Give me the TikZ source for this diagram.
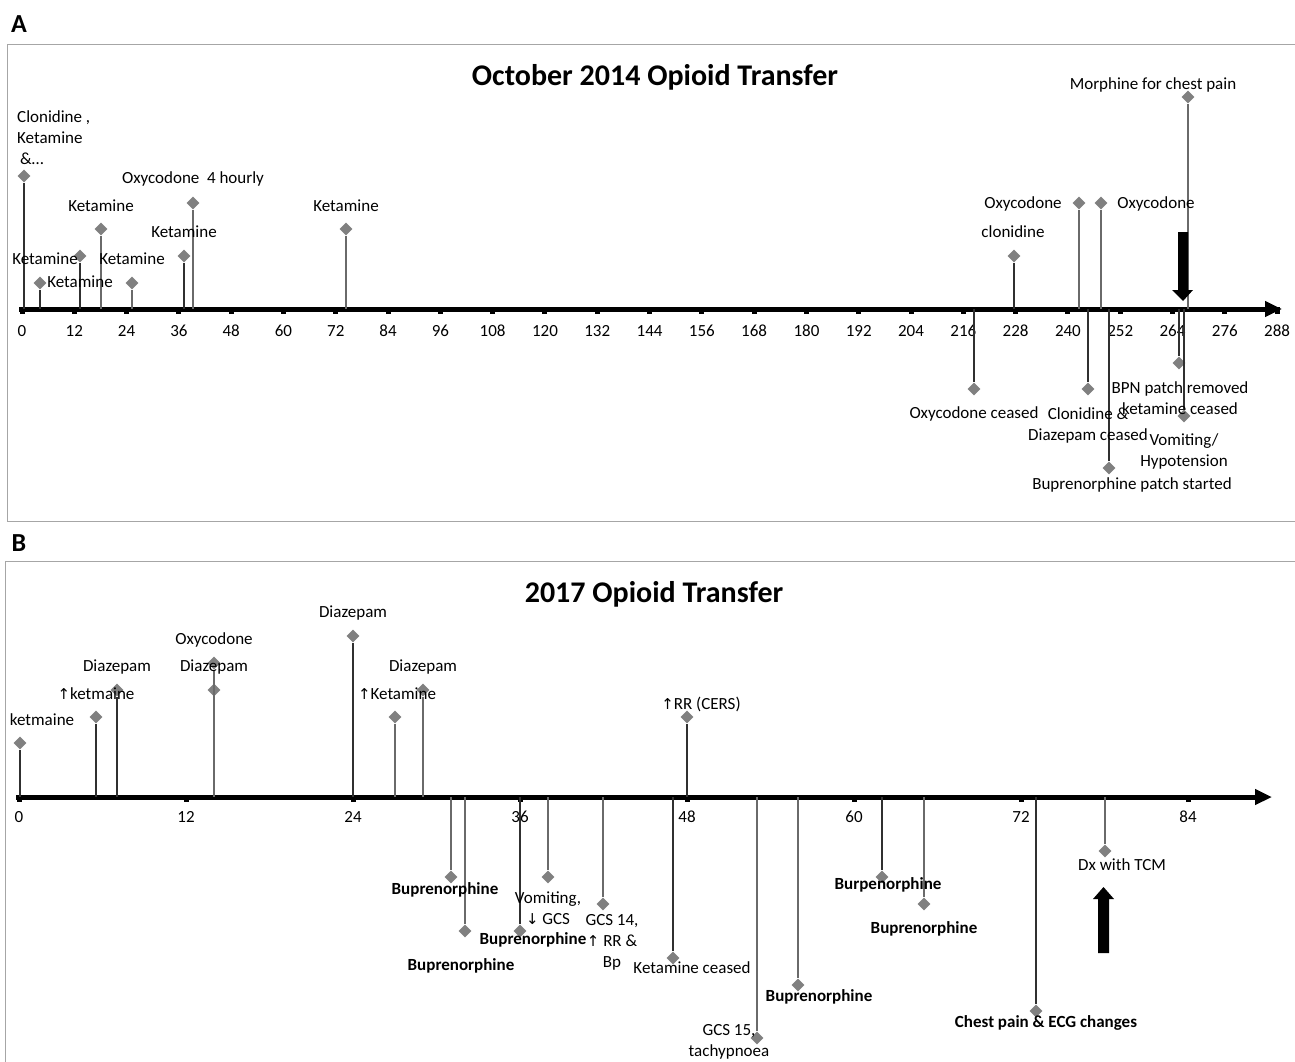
\documentclass[tikz,border=0pt]{standalone}
\usepackage{fontspec}
\setmainfont{Carlito}
\newfontfamily\symfont{DejaVu Sans}
\usetikzlibrary{shapes.geometric,arrows.meta}
\definecolor{diagray}{HTML}{808080}
\definecolor{stemgray}{HTML}{6A6A6A}
\definecolor{stemdark}{HTML}{303030}
\definecolor{framegray}{HTML}{A6A6A6}
\newcommand\evnt[5]{\coordinate (#1x) at (#2,#4); \node[dia] (#1) at (#2,#3) {}; \draw[#5] (#1x) -- (#1);}
\newcommand\up{{\symfont\fontsize{15}{21}\selectfont ↑}}
\newcommand\dn{{\symfont\fontsize{15}{21}\selectfont ↓}}
\begin{document}
\begin{tikzpicture}[x=1pt,y=-1pt,
 dia/.style={diamond,fill=diagray,draw=none,minimum width=13pt,minimum height=13pt,inner sep=0pt},
 stem/.style={line width=1.1pt,draw=stemgray},
 stemk/.style={line width=1.1pt,draw=stemdark},
 lab/.style={font=\fontsize{17}{21}\selectfont,inner sep=0pt,align=center},
 blab/.style={font=\fontsize{17}{21}\selectfont\bfseries,inner sep=0pt,align=center},
 ttl/.style={font=\fontsize{30}{36}\selectfont\bfseries,inner sep=0pt},
 plab/.style={font=\fontsize{26}{30}\selectfont\bfseries,inner sep=0pt},
 tlab/.style={font=\fontsize{17}{21}\selectfont,inner sep=0pt},
 axis/.style={line width=5pt,-{Triangle[length=17pt,width=15pt]}},
 frm/.style={draw=framegray,line width=1pt},
 bigarrow/.style={fill=black}
]
\useasboundingbox (0,0) rectangle (1295,1061);
\fill[white] (0,0) rectangle (1295,1061);

% ---------------- Panel A ----------------
\node[plab] (pA) at (19,24) {A};
\draw[frm] (1300,44) -- (7,44) -- (7,521) -- (1300,521);
\node[ttl] (tA) at (655,77) {October 2014 Opioid Transfer};

\coordinate (axAs) at (19,309);
\coordinate (axAe) at (1282,309);
\draw[axis] (axAs) -- (axAe);
\foreach \t in {0,12,...,288} {
  \fill ({22+\t*4.358-2.5},307) rectangle ({22+\t*4.358+2.5},314);
  \node[tlab] (tkA\t) at ({22+\t*4.358},331) {\t};
}

% events above
\evnt{a1}{24}{176}{309}{stemk}
\evnt{a2}{40}{283}{309}{stemk}
\evnt{a3}{80}{256}{309}{stemk}
\evnt{a4}{101}{229}{309}{stem}
\evnt{a5}{132}{283}{309}{stem}
\evnt{a6}{184}{256}{309}{stemk}
\evnt{a7}{193}{203}{309}{stem}
\evnt{a8}{346}{229}{309}{stem}
\evnt{a9}{1014}{256}{309}{stemk}
\evnt{a10}{1079}{203}{309}{stem}
\evnt{a11}{1101}{203}{309}{stem}
\evnt{a12}{1188}{97}{309}{stem}
% events below
\evnt{b1}{974}{389}{309}{stemk}
\evnt{b2}{1088}{389}{309}{stemk}
\evnt{b3}{1109}{468}{309}{stemk}
\evnt{b4}{1179}{363}{309}{stemk}
\evnt{b5}{1184}{416}{309}{stemk}

\node[lab,align=left,anchor=west] (la1) at (17,138) {Clonidine ,\\Ketamine\\\hspace{3pt}\&…};
\node[lab] (la2) at (80,282) {Ketamine};
\node[lab] (la3) at (45,259) {Ketamine};
\node[lab] (la4) at (101,206) {Ketamine};
\node[lab] (la5) at (132,259) {Ketamine};
\node[lab] (la6) at (184,232) {Ketamine};
\node[lab] (la7) at (193,179) {Oxycodone\ \ 4 hourly};
\node[lab] (la8) at (346,206) {Ketamine};
\node[lab] (la9) at (1013,232) {clonidine};
\node[lab] (la10) at (1023,204) {Oxycodone};
\node[lab] (la11) at (1156,204) {Oxycodone};
\node[lab] (la12) at (1153,85) {Morphine for chest pain};
\node[lab] (lb1) at (974,414) {Oxycodone ceased};
\node[lab] (lb2) at (1088,425) {Clonidine \&\\Diazepam ceased};
\node[lab] (lb3) at (1132,485) {Buprenorphine patch started};
\node[lab] (lb4) at (1180,398) {BPN patch removed\\ketamine ceased};
\node[lab] (lb5) at (1184,451) {Vomiting/\\Hypotension};

\fill[bigarrow] (1178,232) -- (1188,232) -- (1188,290) -- (1193,290) -- (1183,301) -- (1172,290) -- (1178,290) -- cycle;

% ---------------- Panel B ----------------
\node[plab] (pB) at (19,543) {B};
\draw[frm] (1300,561) -- (5,561) -- (5,1070);
\node[ttl] (tB) at (654,594) {2017 Opioid Transfer};

\coordinate (axBs) at (16,797);
\coordinate (axBe) at (1272,797);
\draw[axis] (axBs) -- (axBe);
\foreach \t in {0,12,...,84} {
  \fill ({19+\t*13.917-2.5},795) rectangle ({19+\t*13.917+2.5},802);
  \node[tlab] (tkB\t) at ({19+\t*13.917},817) {\t};
}

\evnt{c1}{20}{743}{797}{stemk}
\evnt{c2}{96}{717}{797}{stemk}
\evnt{c3}{117}{690}{797}{stemk}
\evnt{c5}{214}{690}{797}{stemk,line width=2.2pt}
\evnt{c4}{214}{663}{797}{stem}
\evnt{c6}{353}{636}{797}{stemk}
\evnt{c7}{395}{717}{797}{stem}
\evnt{c8}{423}{690}{797}{stem}
\evnt{c9}{687}{717}{797}{stemk}

\evnt{d1}{451}{877}{797}{stem}
\evnt{d2}{465}{931}{797}{stem}
\evnt{d3}{520}{931}{797}{stemk}
\evnt{d4}{548}{877}{797}{stem}
\evnt{d5}{603}{904}{797}{stem}
\evnt{d6}{673}{958}{797}{stemk}
\evnt{d7}{757}{1038}{797}{stem}
\evnt{d8}{798}{985}{797}{stem}
\evnt{d9}{882}{877}{797}{stemk}
\evnt{d10}{924}{904}{797}{stem}
\evnt{d11}{1036}{1011}{797}{stemk}
\evnt{d12}{1105}{851}{797}{stem}

\node[lab] (lc1) at (42,720) {ketmaine};
\node[lab] (lc2) at (96,694) {\up ketmaine};
\node[lab] (lc3) at (117,667) {Diazepam};
\node[lab] (lc4) at (214,640) {Oxycodone};
\node[lab] (lc5) at (214,667) {Diazepam};
\node[lab] (lc6) at (353,613) {Diazepam};
\node[lab] (lc7) at (397,694) {\up Ketamine};
\node[lab] (lc8) at (423,667) {Diazepam};
\node[lab] (lc9) at (701,704) {\up RR (CERS)};

\node[blab] (ld1) at (445,890) {Buprenorphine};
\node[blab] (ld2) at (461,966) {Buprenorphine};
\node[blab] (ld3) at (533,940) {Buprenorphine};
\node[lab] (ld4) at (548,908) {Vomiting,\\\dn\ GCS};
\node[lab] (ld5) at (612,942) {GCS 14,\\\up\ RR \&\\Bp};
\node[lab] (ld6) at (692,968) {Ketamine ceased};
\node[lab] (ld7) at (729,1042) {GCS 15,\\tachypnoea};
\node[blab] (ld8) at (819,997) {Buprenorphine};
\node[blab] (ld9) at (888,885) {Burpenorphine};
\node[blab] (ld10) at (924,929) {Buprenorphine};
\node[blab] (ld11) at (1046,1023) {Chest pain \& ECG changes};
\node[lab] (ld12) at (1122,865) {Dx with TCM};

\fill[bigarrow] (1098,953) -- (1109,953) -- (1109,899) -- (1114,899) -- (1103.5,887) -- (1093,899) -- (1098,899) -- cycle;
\end{tikzpicture}
\end{document}
